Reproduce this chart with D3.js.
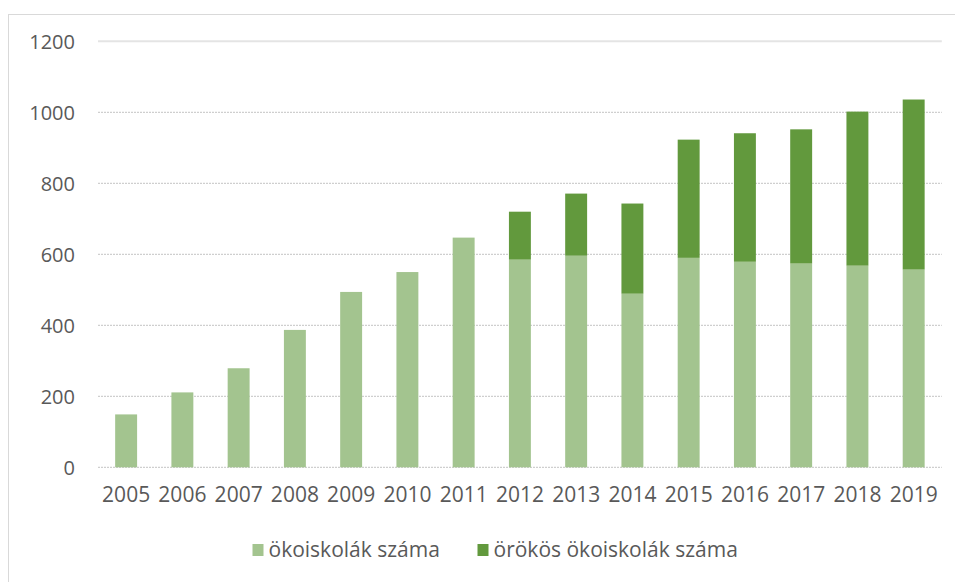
<!DOCTYPE html>
<html>
<head>
<meta charset="utf-8">
<script src="https://cdn.jsdelivr.net/npm/d3@7"></script>
<style>
  body { margin: 0; background: #fff; }
  svg text { font-family: "Open Sans", sans-serif; fill: #595959; }
</style>
</head>
<body>
<div class="canvas"></div>
<script>
'use strict';
var years = ['2005','2006','2007','2008','2009','2010','2011','2012','2013','2014','2015','2016','2017','2018','2019'];
var okoiskolak = [149, 211, 279, 387, 494, 550, 647, 585, 596, 489, 590, 579, 574, 568, 557];
var orokos = [0, 0, 0, 0, 0, 0, 0, 135, 175, 254, 333, 362, 378, 434, 479];
var yTicks = [0, 200, 400, 600, 800, 1000, 1200];
var seriesNames = ['ökoiskolák száma', 'örökös ökoiskolák száma'];
var colors = ['#a3c48f', '#62993d'];

var W = 955, H = 582;

var rows = years.map((y, i) => ({year: y, a: okoiskolak[i], b: orokos[i]}));
var stacked = d3.stack().keys(['a', 'b'])(rows);

var svg = d3.select('.canvas').append('svg')
    .attr('width', W)
    .attr('height', H);

// chart area border
svg.append('rect')
    .attr('x', 8.5).attr('y', 14.5)
    .attr('width', 1200).attr('height', 1200)
    .attr('fill', 'none')
    .attr('stroke', '#d9d9d9');

var yScale = d3.scaleLinear()
    .domain([0, 1200])
    .range([467.3, 41.3]);

var xScale = d3.scaleBand()
    .domain(years)
    .range([98, 941.8])
    .paddingInner(0.61)
    .paddingOuter(0.305);

// gridlines
svg.append('g').selectAll('line')
    .data(yTicks)
    .enter().append('line')
    .attr('x1', 98).attr('x2', 941.8)
    .attr('y1', d => yScale(d)).attr('y2', d => yScale(d))
    .attr('stroke', d => d === 1200 ? '#e4e4e4' : '#c4c4c4')
    .attr('stroke-width', d => d === 1200 ? 2 : 1)
    .attr('stroke-dasharray', d => d === 1200 ? null : '2,1');

// y axis labels
var yAxis = d3.axisLeft(yScale).tickValues(yTicks).tickFormat(d3.format('d')).tickSize(0).tickPadding(0);
var gy = svg.append('g').attr('transform', 'translate(75,0)').call(yAxis);
gy.select('.domain').remove();
gy.selectAll('text')
    .attr('font-size', 20)
    .attr('dy', '0.35em')
    .style('font-family', '"Open Sans", sans-serif')
    .style('fill', '#595959');

// bars
svg.append('g').selectAll('g')
    .data(stacked)
    .enter().append('g')
    .attr('fill', (d, i) => colors[i])
    .selectAll('rect')
    .data(d => d.filter(p => p[1] > p[0]))
    .enter().append('rect')
    .attr('x', d => xScale(d.data.year))
    .attr('width', xScale.bandwidth())
    .attr('y', d => yScale(d[1]))
    .attr('height', d => yScale(d[0]) - yScale(d[1]));

// x axis labels
var xAxis = d3.axisBottom(xScale).tickSize(0).tickPadding(0);
var gx = svg.append('g').attr('transform', 'translate(0,487)').call(xAxis);
gx.select('.domain').remove();
gx.selectAll('text')
    .attr('font-size', 21)
    .attr('dy', '0.71em')
    .style('font-family', '"Open Sans", sans-serif')
    .style('fill', '#595959');

// legend
var legendX = [252.5, 477.5];
var legend = svg.append('g').selectAll('g')
    .data(seriesNames)
    .enter().append('g')
    .attr('transform', (d, i) => 'translate(' + legendX[i] + ',544)');
legend.append('rect')
    .attr('width', 11).attr('height', 12)
    .attr('fill', (d, i) => colors[i]);
legend.append('text')
    .attr('x', 16).attr('y', 13)
    .attr('font-size', 21)
    .text(d => d);
</script>
</body>
</html>
